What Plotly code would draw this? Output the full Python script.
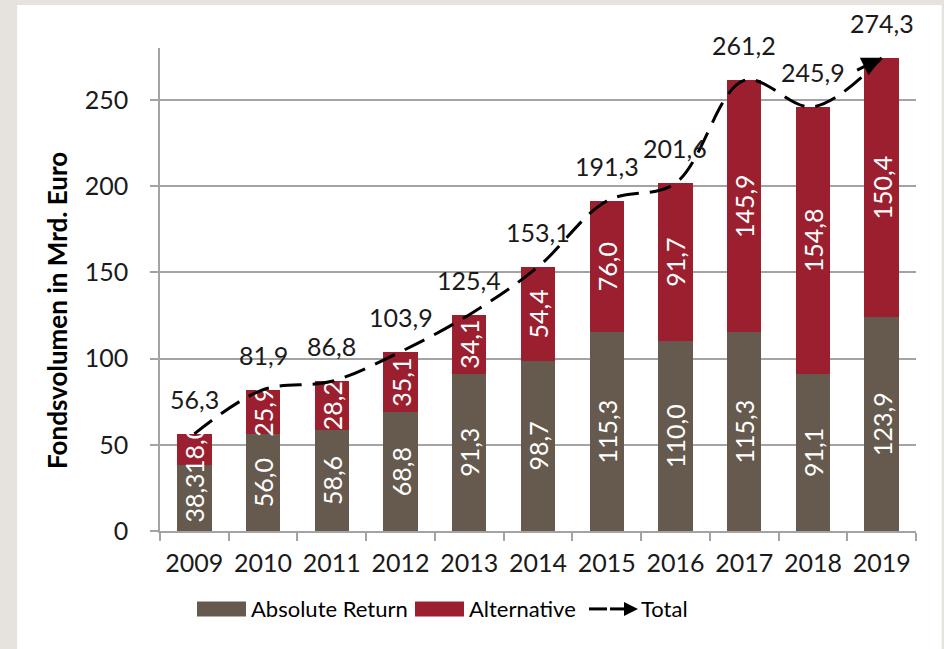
import plotly.graph_objects as go

years = ["2009", "2010", "2011", "2012", "2013", "2014", "2015", "2016", "2017", "2018", "2019"]
absolute_return = [38.3, 56.0, 58.6, 68.8, 91.3, 98.7, 115.3, 110.0, 115.3, 91.1, 123.9]
alternative = [18.0, 25.9, 28.2, 35.1, 34.1, 54.4, 76.0, 91.7, 145.9, 154.8, 150.4]
total = [56.3, 81.9, 86.8, 103.9, 125.4, 153.1, 191.3, 201.6, 261.2, 245.9, 274.3]

def de(v):
    return f"{v:.1f}".replace(".", ",")

BROWN = "#665a4e"
RED = "#9b1f2f"
GRID = "#a3a3a3"
FONT = "Lato, 'Open Sans', sans-serif"
NARROW = "'Liberation Sans Narrow', Lato, sans-serif"
FS = 25

fig = go.Figure()
fig.add_trace(go.Bar(
    x=years, y=absolute_return, name="Absolute Return", marker_color=BROWN,
    text=[de(v) for v in absolute_return], textposition="inside", textangle=-90,
    insidetextanchor="middle", textfont=dict(color="white", size=FS, family=FONT),
    marker_line_width=0, showlegend=False, cliponaxis=False,
))
fig.add_trace(go.Bar(
    x=years, y=alternative, name="Alternative", marker_color=RED,
    text=[de(v) for v in alternative], textposition="inside", textangle=-90,
    insidetextanchor="middle", textfont=dict(color="white", size=FS, family=FONT),
    marker_line_width=0, showlegend=False, cliponaxis=False,
))
fig.add_trace(go.Scatter(
    x=years, y=total, name="Total", mode="lines",
    line=dict(color="black", width=3, dash="22px,11px", shape="spline", smoothing=1.0),
    showlegend=False, cliponaxis=False,
))

for i, t in enumerate(total):
    fig.add_annotation(x=i, y=t, text=de(t), showarrow=False, yshift=35,
                       font=dict(size=FS, color="#1a1a1a", family=FONT))

# arrow head at the end of the total line
fig.add_annotation(x=len(total) - 1, y=total[-1], text="", showarrow=True, ax=-26, ay=13,
                   arrowhead=2, arrowsize=1.3, arrowwidth=3, arrowcolor="black", standoff=0)

# y-axis title
fig.add_annotation(xref="paper", yref="paper", x=-0.136, y=0.456, text="<b>Fondsvolumen in Mrd. Euro</b>",
                   textangle=-90, showarrow=False, xanchor="center", yanchor="middle",
                   font=dict(size=26, color="black", family=FONT))

# white panel
shapes = [dict(type="rect", xref="paper", yref="paper", x0=-0.189, x1=1.034, y0=-0.25, y1=1.089,
               fillcolor="white", line_width=0, layer="below")]

# custom legend
px = lambda p: (p - 160) / 756
py = lambda p: (531.5 - p) / 483.5
ly0, ly1 = py(602), py(617)
lyc = py(609.5)
shapes.append(dict(type="rect", xref="paper", yref="paper", x0=px(197), x1=px(246), y0=ly1, y1=ly0,
                   fillcolor=BROWN, line_width=0))
shapes.append(dict(type="rect", xref="paper", yref="paper", x0=px(415), x1=px(464), y0=ly1, y1=ly0,
                   fillcolor=RED, line_width=0))
shapes.append(dict(type="line", xref="paper", yref="paper", x0=px(589), x1=px(607), y0=lyc, y1=lyc,
                   line=dict(color="black", width=3)))
shapes.append(dict(type="line", xref="paper", yref="paper", x0=px(610), x1=px(626), y0=lyc, y1=lyc,
                   line=dict(color="black", width=3)))
th = 7 / 483.5
shapes.append(dict(type="path", xref="paper", yref="paper",
                   path=f"M {px(624)} {lyc + th} L {px(638)} {lyc} L {px(624)} {lyc - th} Z",
                   fillcolor="black", line_width=0))
for xx, label in [(px(249), "Absolute Return"), (px(467), "Alternative"), (px(639), "Total")]:
    fig.add_annotation(xref="paper", yref="paper", x=xx, y=lyc, text=label, showarrow=False,
                       xanchor="left", yanchor="middle", font=dict(size=22, color="black", family=NARROW))

fig.update_layout(
    width=944, height=649,
    barmode="stack", bargap=0.5,
    paper_bgcolor="#e6e2de", plot_bgcolor="rgba(0,0,0,0)",
    margin=dict(l=160, r=28, t=48, b=117.5),
    shapes=shapes,
    uniformtext=dict(minsize=FS, mode="show"),
    font=dict(family=FONT, size=FS, color="black"),
)
fig.update_xaxes(type="category", showline=True, linecolor=GRID, linewidth=1.5,
                 ticks="outside", tickson="boundaries", ticklen=8, tickcolor=GRID, tickwidth=1.5,
                 showgrid=False, tickangle=0, tickfont=dict(size=FS, family=FONT, color="#1a1a1a"),
                 ticklabelstandoff=9)
fig.update_yaxes(range=[0, 280], dtick=50, showline=True, linecolor=GRID, linewidth=1.5,
                 showgrid=True, gridcolor=GRID, gridwidth=1.5, zeroline=False,
                 ticks="outside", ticklen=8, tickcolor=GRID, tickwidth=1.5,
                 tickfont=dict(size=FS, family=FONT, color="#1a1a1a"), ticklabelstandoff=17)

fig.write_html("out.html", config={"displayModeBar": False},
               post_script="document.body.style.margin='0';document.body.style.overflow='hidden';")
